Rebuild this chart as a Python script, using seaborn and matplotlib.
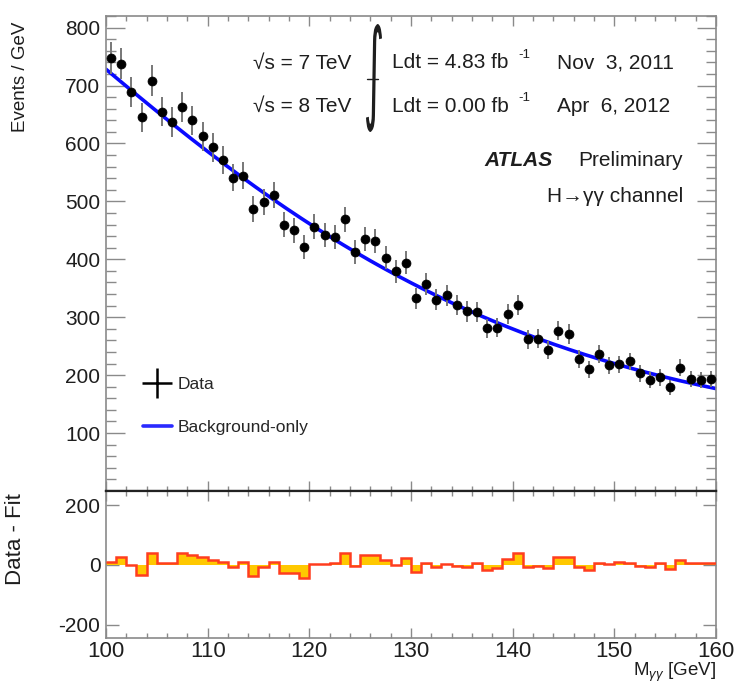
import numpy as np
import matplotlib
matplotlib.use("Agg")
import matplotlib.pyplot as plt
import seaborn as sns
from matplotlib.lines import Line2D
from matplotlib.textpath import TextPath
from matplotlib.patches import PathPatch
from matplotlib.font_manager import FontProperties
from matplotlib.transforms import Affine2D
from matplotlib.ticker import MultipleLocator, FixedLocator

# ---- diphoton invariant mass spectrum, 1 GeV bins from 100 to 160 GeV ----
mass_range = (100, 160)
bin_width = 1.0
events_per_gev = [
    748, 738, 689, 645, 708, 655, 637, 663, 640, 612,
    593, 571, 541, 544, 487, 499, 511, 460, 450, 421,
    456, 442, 438, 469, 413, 435, 431, 403, 379, 394,
    333, 358, 330, 338, 321, 310, 309, 281, 282, 305,
    321, 262, 263, 244, 277, 271, 228, 210, 236, 217,
    219, 224, 203, 191, 196, 179, 213, 193, 192, 193,
]
# data minus background-only fit, per bin
data_minus_fit = [
    11, 26, 0, -33, 41, 6, 6, 41, 34, 26,
    17, 11, -6, 9, -37, -8, 9, -26, -26, -44,
    2, 2, 8, 41, -2, 32, 34, 17, 1, 22,
    -22, 6, -8, 2, -3, -6, 6, -17, -11, 19,
    39, -8, -3, -9, 26, 26, -8, -17, 6, 3,
    9, 8, -3, -8, 6, -14, 17, 8, 6, 6,
]
x_ticks = [100, 110, 120, 130, 140, 150, 160]
y_ticks_top = [100, 200, 300, 400, 500, 600, 700, 800]
y_ticks_bottom = [-200, 0, 200]
y_ticklabels_bottom = ["-200", "0", "200"]

edges = np.arange(mass_range[0], mass_range[1] + bin_width, bin_width)
centers = 0.5 * (edges[:-1] + edges[1:])
counts = np.asarray(events_per_gev, dtype=float)
errors = np.sqrt(counts)
residuals = np.asarray(data_minus_fit, dtype=float)

# smooth background-only curve: exponential of a 3rd order polynomial fitted
# to the per-bin fit values (data minus residual)
u = (centers - 130.0) / 30.0
coef = np.polyfit(u, np.log(counts - residuals), 3)
m_fine = np.linspace(mass_range[0], mass_range[1], 400)
bkg_curve = np.exp(np.polyval(coef, (m_fine - 130.0) / 30.0))

# ---- styling ----
sns.set_style("ticks")
plt.rcParams["font.family"] = ["Liberation Sans", "DejaVu Sans"]
plt.rcParams["mathtext.fontset"] = "custom"
plt.rcParams["mathtext.rm"] = "Liberation Sans"
plt.rcParams["mathtext.it"] = "Liberation Sans:italic"

W, H = 735, 684
fig = plt.figure(figsize=(W / 100, H / 100), dpi=100)
fig.patch.set_facecolor("white")


def frac_box(x0, y0, x1, y1):
    return [x0 / W, 1 - y1 / H, (x1 - x0) / W, (y1 - y0) / H]


ax_top = fig.add_axes(frac_box(106, 16, 716, 491))
ax_bot = fig.add_axes(frac_box(106, 491, 716, 638), sharex=ax_top)

frame_col = "#8a8a8a"
text_col = "#1e1e1e"

# ---- upper panel ----
sns.lineplot(x=m_fine, y=bkg_curve, ax=ax_top, color="#0a0aff", lw=2.6, zorder=2)
ax_top.errorbar(centers, counts, yerr=errors, fmt="none", ecolor="#777777",
                elinewidth=1.4, capsize=0, zorder=3)
sns.scatterplot(x=centers, y=counts, ax=ax_top, color="black", s=42,
                edgecolor="black", linewidth=0.5, zorder=4)

ax_top.set_xlim(*mass_range)
ax_top.set_ylim(0, 820)
ax_top.yaxis.set_major_locator(FixedLocator(y_ticks_top))
ax_top.yaxis.set_minor_locator(MultipleLocator(20))
ax_top.xaxis.set_major_locator(FixedLocator(x_ticks))
ax_top.xaxis.set_minor_locator(MultipleLocator(2))
ax_top.tick_params(axis="y", which="major", direction="in", length=14, width=1.0,
                   left=True, right=True, color=frame_col, labelsize=15,
                   labelcolor=text_col, pad=4)
ax_top.tick_params(axis="y", which="minor", direction="in", length=7.5, width=1.0,
                   left=True, right=True, color=frame_col)
ax_top.tick_params(axis="x", which="major", direction="in", length=7, width=1.0,
                   top=True, bottom=True, color=frame_col, labelbottom=False)
ax_top.tick_params(axis="x", which="minor", direction="in", length=3.8, width=1.0,
                   top=True, bottom=True, color=frame_col)
ax_top.set_xlabel("")
ax_top.set_ylabel("")

# ---- lower panel: data minus fit ----
ax_bot.stairs(residuals, edges, baseline=0, fill=True, color="#ffc800", zorder=2)
ax_bot.stairs(residuals, edges, baseline=None, color="#ff3d1f", lw=1.8, zorder=3)
ax_bot.set_ylim(-245, 248)
ax_bot.set_yticks(y_ticks_bottom)
ax_bot.set_yticklabels(y_ticklabels_bottom)
ax_bot.xaxis.set_major_locator(FixedLocator(x_ticks))
ax_bot.xaxis.set_minor_locator(MultipleLocator(2))
ax_bot.set_xticklabels([str(t) for t in x_ticks])
ax_bot.tick_params(axis="y", which="major", direction="in", length=9.5, width=1.0,
                   left=True, right=True, color=frame_col, labelsize=15,
                   labelcolor=text_col, pad=4)
ax_bot.tick_params(axis="x", which="major", direction="in", length=7, width=1.0,
                   top=True, bottom=True, color=frame_col, labelsize=16,
                   labelcolor=text_col, pad=2)
ax_bot.tick_params(axis="x", which="minor", direction="in", length=3.6, width=1.0,
                   top=True, bottom=True, color=frame_col)
ax_bot.set_xlim(*mass_range)

for ax in (ax_top, ax_bot):
    for side in ("left", "right", "top", "bottom"):
        ax.spines[side].set_color(frame_col)
        ax.spines[side].set_linewidth(1.2)
ax_top.spines["bottom"].set_color("#222222")
ax_top.spines["bottom"].set_linewidth(1.6)
ax_bot.spines["top"].set_color("#222222")
ax_bot.spines["top"].set_linewidth(1.6)

# ---- axis titles ----
fig.text(21 / W, 1 - 22 / H, "Events / GeV", rotation=90, ha="center", va="top",
         fontsize=13.5, color=text_col)
fig.text(16 / W, 1 - 493 / H, "Data - Fit", rotation=90, ha="center", va="top",
         fontsize=16, color=text_col)
fig.text(716 / W, 1 - 676 / H, r"M$_{\gamma\gamma}$ [GeV]", ha="right",
         va="baseline", fontsize=13.5, color=text_col)

# ---- legend ----
handles = [
    Line2D([], [], marker="+", markersize=22, markeredgewidth=1.8, color="black",
           linestyle="None"),
    Line2D([], [], color="#2a2aff", lw=2.6),
]
ax_top.legend(handles, ["Data", "Background-only"], loc="center left",
              bbox_to_anchor=(143 / W, 1 - 406 / H), bbox_transform=fig.transFigure,
              frameon=False, fontsize=12.5, labelspacing=1.65, handlelength=1.67,
              handletextpad=0.3, borderpad=0, borderaxespad=0)

# ---- run information ----
fs = 15
fig.text(253 / W, 1 - 63 / H, "√s = 7 TeV", ha="left", va="center", fontsize=fs,
         color=text_col)
fig.text(253 / W, 1 - 106 / H, "√s = 8 TeV", ha="left", va="center", fontsize=fs,
         color=text_col)
fig.text(392 / W, 1 - 63 / H, "Ldt = 4.83 fb", ha="left", va="center", fontsize=fs,
         color=text_col)
fig.text(392 / W, 1 - 106 / H, "Ldt = 0.00 fb", ha="left", va="center", fontsize=fs,
         color=text_col)
fig.text(518 / W, 1 - 55 / H, "-1", ha="left", va="center", fontsize=9.5,
         color=text_col)
fig.text(518 / W, 1 - 98 / H, "-1", ha="left", va="center", fontsize=9.5,
         color=text_col)
fig.text(557 / W, 1 - 63 / H, "Nov  3, 2011", ha="left", va="center", fontsize=fs,
         color=text_col)
fig.text(557 / W, 1 - 106 / H, "Apr  6, 2012", ha="left", va="center", fontsize=fs,
         color=text_col)
fig.text(484 / W, 1 - 160 / H, "ATLAS", ha="left", va="center", fontsize=fs,
         fontweight="bold", fontstyle="italic", color=text_col)
fig.text(683 / W, 1 - 160 / H, "Preliminary", ha="right", va="center", fontsize=fs,
         color=text_col)
fig.text(683 / W, 1 - 197 / H, "H→γγ channel", ha="right", va="center", fontsize=fs,
         color=text_col)

# tall integral sign spanning both luminosity lines
int_path = TextPath((0, 0), "∫", size=1, prop=FontProperties(family="DejaVu Sans"))
ext = int_path.get_extents()
bx0, by0, bx1, by1 = 366, 24, 382, 132
sx = (bx1 - bx0) / W / ext.width
sy = (by1 - by0) / H / ext.height
int_tf = (Affine2D().translate(-ext.x0, -ext.y0).scale(sx, sy)
          .translate(bx0 / W, 1 - by1 / H)) + fig.transFigure
fig.add_artist(PathPatch(int_path, transform=int_tf, facecolor=text_col,
                         edgecolor="none"))
fig.add_artist(Line2D([367 / W, 378 / W], [1 - 79 / H, 1 - 79 / H],
                      color=text_col, lw=1.0, transform=fig.transFigure))

fig.savefig("out.png", dpi=100, facecolor="white")
